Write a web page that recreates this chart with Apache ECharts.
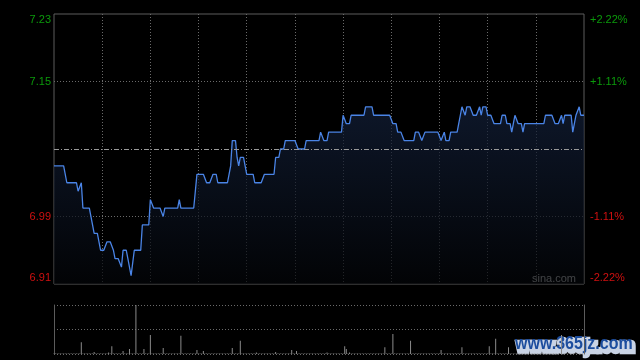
<!DOCTYPE html>
<html>
<head>
<meta charset="utf-8">
<script src="https://cdn.jsdelivr.net/npm/echarts@6/dist/echarts.min.js"></script>
<style>
html,body{margin:0;padding:0;background:#000;}
#c{width:640px;height:360px;}
</style>
</head>
<body>
<div id="c"></div>
<script>
// ---- data ----
const prevClose = 7.07;
const priceTicks = ['6.91', '6.99', '', '7.15', '7.23'];
const pctTicks = ['-2.22%', '-1.11%', '', '+1.11%', '+2.22%'];

const prices = [
  7.05,7.05,7.05,7.05,7.05,7.05,7.05,7.05,7.03,7.03,
  7.03,7.03,7.03,7.03,7.03,7.02,7.02,7.03,7.00,7.00,
  7.00,7.00,7.00,7.00,6.98,6.97,6.97,6.97,6.97,6.95,
  6.95,6.95,6.95,6.96,6.96,6.96,6.96,6.95,6.94,6.94,
  6.94,6.94,6.93,6.95,6.95,6.95,6.94,6.94,6.92,6.92,
  6.95,6.95,6.95,6.95,6.95,6.98,6.98,6.98,6.98,6.98,
  7.01,7.01,7.00,7.00,7.00,7.00,7.00,7.00,6.99,7.00,
  7.00,7.00,7.00,7.00,7.00,7.00,7.00,7.00,7.01,7.00,
  7.00,7.00,7.00,7.00,7.00,7.00,7.00,7.00,7.02,7.04,
  7.04,7.04,7.04,7.04,7.04,7.03,7.03,7.03,7.03,7.04,
  7.04,7.04,7.03,7.03,7.03,7.03,7.03,7.03,7.03,7.04,
  7.05,7.08,7.08,7.08,7.06,7.05,7.06,7.06,7.06,7.06,
  7.04,7.04,7.04,7.04,7.04,7.03,7.03,7.03,7.03,7.03,
  7.03,7.04,7.04,7.04,7.04,7.04,7.04,7.04,7.06,7.06,
  7.06,7.07,7.07,7.07,7.08,7.08,7.08,7.08,7.08,7.08,
  7.08,7.08,7.07,7.07,7.07,7.07,7.07,7.08,7.08,7.08,
  7.08,7.08,7.08,7.08,7.08,7.08,7.09,7.09,7.08,7.08,
  7.08,7.09,7.09,7.09,7.09,7.09,7.09,7.09,7.09,7.09,
  7.11,7.11,7.10,7.10,7.10,7.11,7.11,7.11,7.11,7.11,
  7.11,7.11,7.11,7.11,7.12,7.12,7.12,7.12,7.12,7.11,
  7.11,7.11,7.11,7.11,7.11,7.11,7.11,7.11,7.11,7.11,
  7.11,7.10,7.10,7.10,7.09,7.09,7.09,7.09,7.08,7.08,
  7.08,7.08,7.08,7.08,7.08,7.09,7.09,7.09,7.09,7.08,
  7.08,7.09,7.09,7.09,7.09,7.09,7.09,7.09,7.09,7.09,
  7.09,7.08,7.08,7.09,7.08,7.08,7.08,7.09,7.09,7.09,
  7.09,7.09,7.10,7.11,7.12,7.12,7.11,7.12,7.12,7.12,
  7.12,7.11,7.11,7.11,7.11,7.12,7.11,7.12,7.12,7.12,
  7.11,7.11,7.11,7.11,7.10,7.10,7.10,7.10,7.10,7.11,
  7.11,7.11,7.10,7.10,7.10,7.09,7.10,7.11,7.11,7.10,
  7.10,7.10,7.09,7.10,7.10,7.10,7.10,7.10,7.10,7.10,
  7.10,7.10,7.10,7.10,7.10,7.10,7.11,7.11,7.11,7.11,
  7.11,7.11,7.10,7.10,7.10,7.10,7.11,7.10,7.11,7.11,
  7.11,7.11,7.11,7.09,7.10,7.11,7.11,7.12,7.11,7.11,
  7.11
];

const volumes = [
  1,1,1,1,1,1,1,1,1,1,
  1,1,1,1,1,1,1,24,1,1,
  1,1,1,1,1,4,1,1,1,1,
  1,1,1,1,3,1,16,1,1,1,
  1,1,1,6,1,1,1,10,1,1,
  1,160,1,1,1,1,10,1,1,1,
  39,1,1,1,1,1,1,1,12,1,
  1,1,1,1,1,1,1,1,1,37,
  1,1,1,1,1,1,1,1,1,8,
  1,1,1,6,1,1,1,1,1,1,
  1,1,1,1,1,1,1,1,1,1,
  1,12,1,1,1,1,27,1,1,1,
  1,1,1,1,1,1,3,1,1,1,
  1,1,1,1,1,1,1,1,4,1,
  1,1,1,1,1,1,1,1,8,1,
  1,6,1,1,1,1,1,1,1,1,
  1,1,1,1,1,1,1,1,1,1,
  3,1,1,1,1,1,1,1,1,1,
  1,16,10,1,3,1,1,1,1,1,
  1,1,1,1,1,1,1,1,1,1,
  1,1,1,1,1,1,14,1,1,1,
  1,41,1,1,1,1,1,1,1,1,
  1,1,27,1,1,1,1,1,1,1,
  1,1,1,1,1,1,1,1,1,1,
  1,8,1,1,1,1,1,1,1,1,
  1,1,1,1,14,1,1,1,1,1,
  1,1,1,1,1,1,1,1,1,1,
  1,16,1,1,1,31,1,1,1,1,
  1,1,1,14,1,1,1,1,1,1,
  1,1,1,1,1,1,1,1,1,1,
  1,1,1,1,1,1,1,1,1,1,
  1,1,1,1,1,1,39,1,1,1,
  1,1,1,1,1,1,1,1,1,1,
  1
];

// time categories (HK session)
const times = [];
function pad(n){return (n<10?'0':'')+n;}
for (let m = 0; m <= 150; m++) { const t = 9*60+30+m; times.push(pad(Math.floor(t/60))+':'+pad(t%60)); }
for (let m = 1; m <= 180; m++) { const t = 13*60+m; times.push(pad(Math.floor(t/60))+':'+pad(t%60)); }

// ---- chart ----
const GREEN = '#0b9a0b', RED = '#d01010', GRIDC = '#6a6a6a', BORDER = '#5c5c5c';
const FONT = '"Liberation Sans", Arial, sans-serif';

function labelRich() {
  return {
    gt: {color: GREEN, fontSize: 11, fontFamily: FONT, padding: [12,0,0,0]},
    g:  {color: GREEN, fontSize: 11, fontFamily: FONT},
    r:  {color: RED, fontSize: 11, fontFamily: FONT},
    rb: {color: RED, fontSize: 11, fontFamily: FONT, padding: [0,0,12,0]}
  };
}
function styleName(index, n) {
  if (index === n - 1) return 'gt';
  if (index === 0) return 'rb';
  return index > (n - 1) / 2 ? 'g' : 'r';
}

const chart = echarts.init(document.getElementById('c'), null, {renderer: 'canvas'});
chart.setOption({
  backgroundColor: '#000',
  animation: false,
  grid: [
    {left: 54, right: 56, top: 14, height: 270, show: true, borderColor: BORDER, borderWidth: 1, backgroundColor: 'transparent'},
    {left: 54, right: 56, top: 305, height: 49}
  ],
  xAxis: [
    {
      type: 'category', gridIndex: 0, data: times, boundaryGap: false,
      axisLine: {show: false}, axisTick: {show: false}, axisLabel: {show: false},
      splitLine: {show: true, interval: function (i) { return i % 30 === 0 && i !== 0 && i !== 330; },
        lineStyle: {color: GRIDC, type: [1, 2], width: 1}}
    },
    {
      type: 'category', gridIndex: 1, data: times, boundaryGap: false,
      axisLine: {show: false}, axisTick: {show: false}, axisLabel: {show: false},
      splitLine: {show: false}
    }
  ],
  yAxis: [
    {
      type: 'value', gridIndex: 0, min: 6.91, max: 7.23, interval: 0.08,
      axisLine: {show: false}, axisTick: {show: false},
      axisLabel: {
        margin: 3,
        formatter: function (v, i) { const t = priceTicks[i]; return t ? '{' + styleName(i, priceTicks.length) + '|' + t + '}' : ''; },
        rich: labelRich()
      },
      splitLine: {show: true, lineStyle: {color: ['transparent', GRIDC, 'transparent', GRIDC, 'transparent'], type: [1, 2], width: 1}}
    },
    {
      type: 'value', gridIndex: 0, position: 'right', min: 6.91, max: 7.23, interval: 0.08,
      axisLine: {show: false}, axisTick: {show: false},
      axisLabel: {
        margin: 6,
        formatter: function (v, i) { const t = pctTicks[i]; return t ? '{' + styleName(i, pctTicks.length) + '|' + t + '}' : ''; },
        rich: labelRich()
      },
      splitLine: {show: false}
    },
    {
      type: 'value', gridIndex: 1, min: 0, max: 100, interval: 50,
      axisLine: {show: true, lineStyle: {color: BORDER}}, axisTick: {show: false}, axisLabel: {show: false},
      splitLine: {show: true, lineStyle: {color: GRIDC, type: [1, 2], width: 1}}
    },
    {
      type: 'value', gridIndex: 1, position: 'right', min: 0, max: 100, interval: 50,
      axisLine: {show: true, lineStyle: {color: BORDER}}, axisTick: {show: false}, axisLabel: {show: false},
      splitLine: {show: false}
    }
  ],
  series: [
    {
      type: 'line', xAxisIndex: 0, yAxisIndex: 0, data: prices,
      symbol: 'none', smooth: false,
      lineStyle: {color: '#4a84e6', width: 1.3},
      areaStyle: {origin: 'start', color: new echarts.graphic.LinearGradient(0, 0, 0, 1, [
        {offset: 0, color: '#13203a'}, {offset: 1, color: '#030508'}
      ])},
      markLine: {
        symbol: 'none', silent: true, label: {show: false},
        lineStyle: {color: '#9a9a9a', type: [5, 2, 1, 2], width: 1},
        data: [{yAxis: prevClose}]
      }
    },
    {
      type: 'bar', xAxisIndex: 1, yAxisIndex: 2, data: volumes,
      barWidth: 1, itemStyle: {color: '#8a8a8a'}, clip: true
    }
  ],
  graphic: [
    {type: 'text', left: 532, top: 273, silent: true,
      style: {text: 'sina.com', fill: '#cfcfcf', font: '11px ' + FONT}},
    {type: 'text', left: 515, top: 335, silent: true, scaleY: 1.15,
      style: {text: 'www.365jz.com', fill: '#c9d3e4', stroke: '#c9d3e4', lineWidth: 4, font: 'bold 16px ' + FONT}},
    {type: 'text', left: 515, top: 335, silent: true, scaleY: 1.15,
      style: {text: 'www.365jz.com', fill: '#1c4d9e', font: 'bold 16px ' + FONT}}
  ]
});
</script>
</body>
</html>
